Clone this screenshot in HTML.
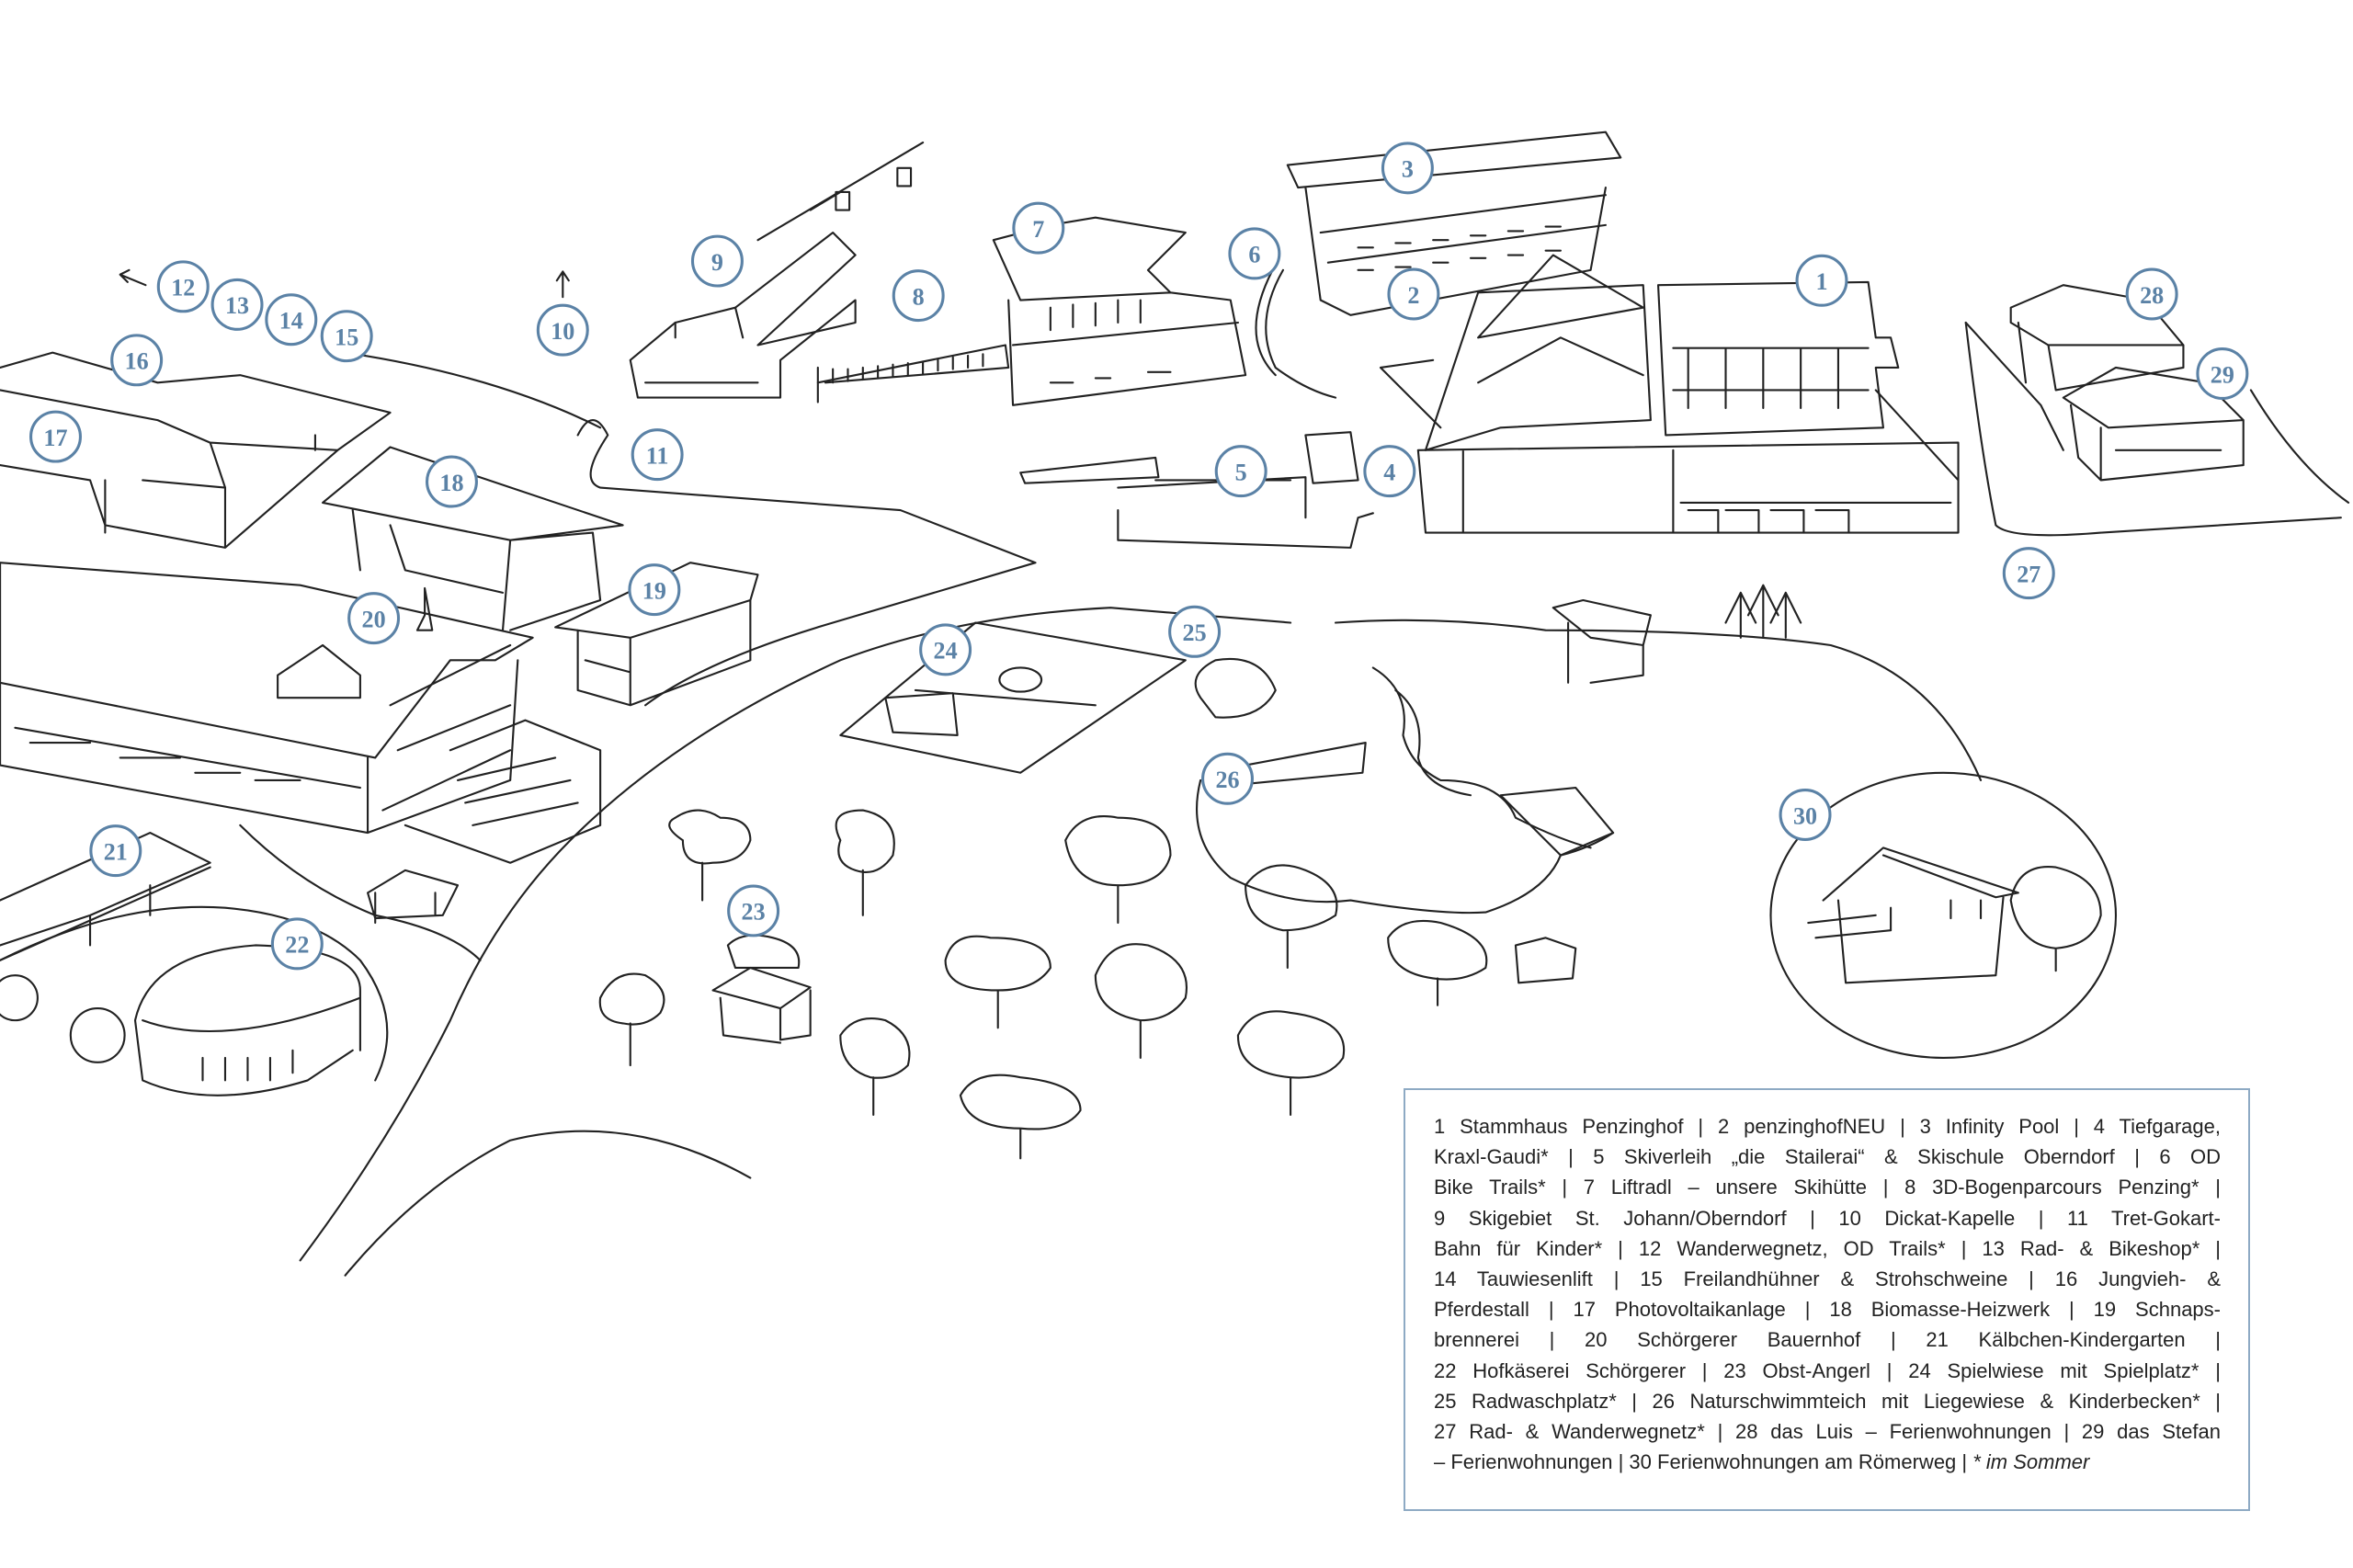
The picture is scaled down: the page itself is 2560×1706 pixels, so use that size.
<!DOCTYPE html>
<html><head><meta charset="utf-8"><style>
html,body{margin:0;padding:0;background:#fff;width:2560px;height:1706px;overflow:hidden;position:relative}
svg{position:absolute;left:0;top:0}
.leg{position:absolute;left:1527px;top:1184px;width:921px;height:460px;border:2px solid #8eaac4;box-sizing:border-box;padding:23px 30px 0 31px;font-family:"Liberation Sans",sans-serif;font-size:22px;line-height:33.2px;color:#222}
.leg div{text-align:justify;text-align-last:justify;white-space:nowrap;overflow:visible}
.leg div.l{text-align-last:left}
</style></head><body>
<svg width="2560" height="1706" viewBox="0 0 1568 1045" xmlns="http://www.w3.org/2000/svg">
<g fill="none" stroke="#222" stroke-width="1.3" stroke-linejoin="round" stroke-linecap="round">
<path d="M385,290 Q395,270 405,290 Q385,320 400,325 L600,340 L690,375 L555,415 Q470,440 430,470"/>
<path d="M230,235 Q330,250 400,285"/>
<path d="M200,840 Q260,760 300,680 Q330,610 380,560 Q450,490 560,440 Q640,410 740,405 Q800,410 860,415"/>
<path d="M890,415 Q960,410 1030,420 Q1150,420 1220,430 Q1290,450 1320,520"/>
<path d="M230,850 Q280,790 340,760 Q420,740 500,785"/>
<path d="M160,550 Q200,590 250,610 Q300,620 320,640"/>
<path d="M0,640 Q80,600 150,605 Q210,610 240,640 Q270,680 250,720"/>
<path d="M1310,215 Q1320,300 1330,350 Q1340,360 1400,355 L1560,345"/>
<path d="M1500,260 Q1530,310 1565,335"/>
<path d="M0,375 L200,390 L355,425 L330,440 L300,440 L250,505 L0,455 Z"/>
<path d="M0,455 L0,510 L245,555 L245,505 M245,555 L340,520 L345,440"/>
<path d="M10,485 L240,525 M20,495 h40 M80,505 h40 M130,515 h30 M170,520 h30"/>
<path d="M185,450 L215,430 L240,450 L240,465 L185,465 Z"/>
<path d="M260,470 L340,430 M265,500 L340,470 M255,540 L340,500"/>
<path d="M300,500 L350,480 L400,500 L400,550 L340,575 L270,550"/>
<path d="M305,520 L370,505 M310,535 L380,520 M315,550 L385,535"/>
<path d="M0,245 L35,235 L105,255 L160,250 L260,275 L225,300 L140,295 L105,280 L0,260"/>
<path d="M0,310 L60,320 L70,350 L150,365 L225,300 M95,320 L150,325 L150,365 M70,320 L70,355"/>
<path d="M210,290 L210,300 M140,295 L150,325"/>
<path d="M215,335 L260,298 L415,350 L340,360 Z M235,340 L240,380 M340,360 L335,420 M260,350 L270,380 L335,395 M340,360 L395,355 L400,400 L340,420"/>
<path d="M283,392 L283,410 L278,420 L288,420 Z"/>
<path d="M370,418 L460,375 L505,383 L500,400 L420,425 Z M385,420 L385,460 L420,470 L500,440 L500,400 M420,425 L420,470 M390,440 L420,448"/>
<path d="M0,600 L100,555 L140,575 L60,610 L0,630 M0,640 L140,578 M60,610 L60,630 M100,590 L100,610"/>
<path d="M90,680 Q100,635 170,630 Q240,632 240,660 L240,700 M90,680 L95,720 Q140,740 205,720 L235,700 M95,680 Q150,700 240,665"/>
<path d="M135,705 v15 M150,705 v15 M165,705 v15 M180,705 v15 M195,700 v15"/>
<circle cx="65" cy="690" r="18"/><circle cx="10" cy="665" r="15"/>
<path d="M245,595 L270,580 L305,590 L295,610 L250,612 Z M250,595 v20 M290,595 v15"/>
<path d="M420,240 L450,215 L490,205 L555,155 L570,170 L505,230 L570,215 L570,200 L520,240 L520,265 L425,265 Z"/>
<path d="M450,215 L450,225 M490,205 L495,225 M545,245 L545,268 M430,255 L505,255"/>
<path d="M505,160 L615,95 M540,140 L560,128"/>
<rect x="557" y="128" width="9" height="12"/><rect x="598" y="112" width="9" height="12"/>
<path d="M545,255 L670,230 L672,245 L550,255"/>
<path d="M555,255 L555,246 M565,254 v-8 M575,253 v-8 M585,252 v-8 M595,251 v-8 M605,250 v-8 M615,249 v-8 M625,247 v-8 M635,246 v-8 M645,245 v-8 M655,244 v-8"/>
<path d="M662,160 L700,150 L730,145 L790,155 L765,180 L780,195 L680,200 Z M672,200 L675,270 L830,250 L820,200 L780,195 M675,230 L825,215"/>
<path d="M700,205 v15 M715,203 v15 M730,202 v15 M745,200 v15 M760,200 v15 M700,255 h15 M730,252 h10 M765,248 h15"/>
<path d="M680,315 L770,305 L772,318 L683,322 Z M745,325 L870,318 L870,345 M745,340 L745,360 L900,365 L905,345 L915,342"/>
<path d="M770,320 L860,320 M870,290 L900,288 L905,320 L875,322 Z"/>
<path d="M950,300 L985,195 L1095,190 L1100,280 L1000,285 L950,300"/>
<path d="M985,225 L1035,170 L1095,205 L985,225 M985,255 L1040,225 L1095,250"/>
<path d="M1105,190 L1245,188 L1250,225 L1260,225 L1265,245 L1250,245 L1255,285 L1110,290 Z"/>
<path d="M1115,232 h130 M1115,260 h130 M1125,232 v40 M1150,232 v40 M1175,232 v40 M1200,232 v40 M1225,232 v40"/>
<path d="M945,300 L1305,295 L1305,355 L950,355 Z M975,300 L975,355 M1115,300 L1115,355 M1120,335 h180 M1250,260 L1305,320"/>
<path d="M1125,340 h20 v15 M1150,340 h22 v15 M1180,340 h22 v15 M1210,340 h22 v15"/>
<path d="M920,245 L960,285 M920,245 L955,240"/>
<path d="M858,110 L1070,88 L1080,105 L865,125 Z M870,125 L880,200 L900,210 L1060,180 L1070,125 M880,155 L1070,130 M885,175 L1070,150"/>
<path d="M905,165 h10 M930,162 h10 M955,160 h10 M980,157 h10 M1005,154 h10 M1030,151 h10 M905,180 h10 M930,178 h10 M955,175 h10 M980,172 h10 M1005,170 h10 M1030,167 h10"/>
<path d="M855,180 Q835,215 850,245 Q870,260 890,265 M848,180 Q825,225 850,250"/>
<path d="M1340,205 L1375,190 L1430,200 L1455,230 L1365,230 L1340,215 Z M1345,215 L1350,255 M1365,230 L1370,260 L1455,245 L1455,230"/>
<path d="M1375,265 L1410,245 L1470,255 L1495,280 L1405,285 Z M1380,270 L1385,305 L1400,320 L1495,310 L1495,280 M1400,285 L1400,320 M1410,300 h70"/>
<path d="M1310,215 L1360,270 L1375,300"/>
<path d="M560,490 L650,415 L790,440 L680,515 Z M610,460 L730,470 M590,465 L635,462 L638,490 L595,488 Z"/>
<ellipse cx="680" cy="453" rx="14" ry="8"/>
<path d="M800,465 Q790,450 810,440 Q840,435 850,460 Q840,480 810,478 Z"/>
<path d="M830,510 L910,495 L908,515 L835,522 Z"/>
<path d="M915,445 Q940,460 935,490 Q940,510 960,520 Q1000,520 1010,545 Q1040,560 1060,565 M930,460 Q950,475 945,505 Q950,525 980,530"/>
<path d="M800,520 Q790,560 820,585 Q860,605 900,600 Q960,610 990,608 Q1030,595 1040,570 Q1060,565 1075,555"/>
<path d="M1000,530 L1050,525 L1075,555 L1040,570 Z"/>
<path d="M1035,405 L1055,400 L1100,410 L1095,430 L1060,425 Z M1045,415 v40 M1095,430 v20 L1060,455"/>
<path d="M1010,630 L1030,625 L1050,632 L1048,652 L1012,655 Z"/>
<path d="M475,660 L500,645 L540,658 L520,672 Z M480,665 L482,690 L520,695 M520,672 L520,693 L540,690 L540,660"/>
<ellipse cx="1295" cy="610" rx="115" ry="95"/>
<path d="M1215,600 L1255,565 L1345,595 L1330,598 L1295,585 L1255,570 M1225,600 L1230,655 L1330,650 L1335,598 M1205,615 L1250,610 M1210,625 L1260,620"/>
<path d="M1260,605 v15 M1300,600 v12 M1320,600 v12"/>
<g>
<path d="M455,560 Q440,550 450,545 Q465,535 480,545 Q500,545 500,560 Q495,575 475,575 Q455,578 455,560 M468,575 v25"/>
<path d="M560,560 Q550,540 575,540 Q600,545 595,570 Q585,585 570,580 Q555,575 560,560 M575,580 v30"/>
<path d="M710,560 Q720,540 745,545 Q780,545 780,570 Q775,590 745,590 Q715,590 710,560 M745,590 v25"/>
<path d="M630,640 Q635,620 660,625 Q700,625 700,645 Q690,660 665,660 Q630,660 630,640 M665,660 v25"/>
<path d="M730,650 Q740,625 765,630 Q795,640 790,665 Q780,680 760,680 Q730,675 730,650 M760,680 v25"/>
<path d="M830,590 Q845,570 870,580 Q895,590 890,610 Q875,620 855,620 Q830,615 830,590 M858,620 v25"/>
<path d="M560,690 Q570,675 590,680 Q610,690 605,710 Q595,720 580,718 Q560,712 560,690 M582,718 v25"/>
<path d="M640,730 Q650,712 680,718 Q720,722 720,740 Q710,755 680,752 Q645,752 640,730 M680,752 v20"/>
<path d="M825,690 Q835,670 860,675 Q900,680 895,705 Q885,720 860,718 Q825,715 825,690 M860,718 v25"/>
<path d="M925,625 Q935,610 960,615 Q995,625 990,645 Q975,655 955,652 Q925,648 925,625 M958,652 v18"/>
<path d="M400,665 Q410,645 430,650 Q448,660 440,675 Q430,685 415,682 Q398,680 400,665 M420,682 v28"/>
<path d="M485,630 Q495,620 515,625 Q535,630 532,645 L490,645 Z"/>
<path d="M1340,600 Q1345,575 1370,578 Q1400,585 1400,610 Q1395,630 1370,632 Q1345,630 1340,600 M1370,632 v15"/>
<path d="M1160,395 v30 M1175,390 v35 M1190,395 v30 M1150,415 L1160,395 L1170,415 M1165,410 L1175,390 L1185,410 M1180,415 L1190,395 L1200,415"/>
</g>
<path d="M80,183 L97,190 M80,183 L86,180 M80,183 L85,188"/>
<path d="M375,198 L375,181 M375,181 L371,187 M375,181 L379,187"/>
</g>
<g fill="#fff" stroke="#5b82a6" stroke-width="1.9">
<circle cx="1214" cy="187" r="16.5"/><circle cx="942" cy="196" r="16.5"/><circle cx="938" cy="112" r="16.5"/><circle cx="926" cy="314" r="16.5"/><circle cx="827" cy="314" r="16.5"/><circle cx="836" cy="169" r="16.5"/><circle cx="692" cy="152" r="16.5"/><circle cx="612" cy="197" r="16.5"/><circle cx="478" cy="174" r="16.5"/><circle cx="375" cy="220" r="16.5"/><circle cx="438" cy="303" r="16.5"/><circle cx="122" cy="191" r="16.5"/><circle cx="158" cy="203" r="16.5"/><circle cx="194" cy="213" r="16.5"/><circle cx="231" cy="224" r="16.5"/><circle cx="91" cy="240" r="16.5"/><circle cx="37" cy="291" r="16.5"/><circle cx="301" cy="321" r="16.5"/><circle cx="436" cy="393" r="16.5"/><circle cx="249" cy="412" r="16.5"/><circle cx="77" cy="567" r="16.5"/><circle cx="198" cy="629" r="16.5"/><circle cx="502" cy="607" r="16.5"/><circle cx="630" cy="433" r="16.5"/><circle cx="796" cy="421" r="16.5"/><circle cx="818" cy="519" r="16.5"/><circle cx="1352" cy="382" r="16.5"/><circle cx="1434" cy="196" r="16.5"/><circle cx="1481" cy="249" r="16.5"/><circle cx="1203" cy="543" r="16.5"/>
</g>
<g fill="#5b82a6" font-family="Liberation Serif, serif" font-weight="bold" font-size="16" text-anchor="middle">
<text x="1214" y="193">1</text><text x="942" y="202">2</text><text x="938" y="118">3</text><text x="926" y="320">4</text><text x="827" y="320">5</text><text x="836" y="175">6</text><text x="692" y="158">7</text><text x="612" y="203">8</text><text x="478" y="180">9</text><text x="375" y="226">10</text><text x="438" y="309">11</text><text x="122" y="197">12</text><text x="158" y="209">13</text><text x="194" y="219">14</text><text x="231" y="230">15</text><text x="91" y="246">16</text><text x="37" y="297">17</text><text x="301" y="327">18</text><text x="436" y="399">19</text><text x="249" y="418">20</text><text x="77" y="573">21</text><text x="198" y="635">22</text><text x="502" y="613">23</text><text x="630" y="439">24</text><text x="796" y="427">25</text><text x="818" y="525">26</text><text x="1352" y="388">27</text><text x="1434" y="202">28</text><text x="1481" y="255">29</text><text x="1203" y="549">30</text>
</g>
</svg>
<div class="leg">
<div>1 Stammhaus Penzinghof | 2 penzinghofNEU | 3 Infinity Pool | 4 Tiefgarage,</div>
<div>Kraxl-Gaudi* | 5 Skiverleih „die Stailerai“ &amp; Skischule Oberndorf | 6 OD</div>
<div>Bike Trails* | 7 Liftradl – unsere Skihütte | 8 3D-Bogenparcours Penzing* |</div>
<div>9 Skigebiet St. Johann/Oberndorf | 10 Dickat-Kapelle | 11 Tret-Gokart-</div>
<div>Bahn für Kinder* | 12 Wanderwegnetz, OD Trails* | 13 Rad- &amp; Bikeshop* |</div>
<div>14 Tauwiesenlift | 15 Freilandhühner &amp; Strohschweine | 16 Jungvieh- &amp;</div>
<div>Pferdestall | 17 Photovoltaikanlage | 18 Biomasse-Heizwerk | 19 Schnaps-</div>
<div>brennerei | 20 Schörgerer Bauernhof | 21 Kälbchen-Kindergarten |</div>
<div>22 Hofkäserei Schörgerer | 23 Obst-Angerl | 24 Spielwiese mit Spielplatz* |</div>
<div>25 Radwaschplatz* | 26 Naturschwimmteich mit Liegewiese &amp; Kinderbecken* |</div>
<div>27 Rad- &amp; Wanderwegnetz* | 28 das Luis – Ferienwohnungen | 29 das Stefan</div>
<div class="l">– Ferienwohnungen | 30 Ferienwohnungen am Römerweg | <i>* im Sommer</i></div>
</div>
</body></html>
